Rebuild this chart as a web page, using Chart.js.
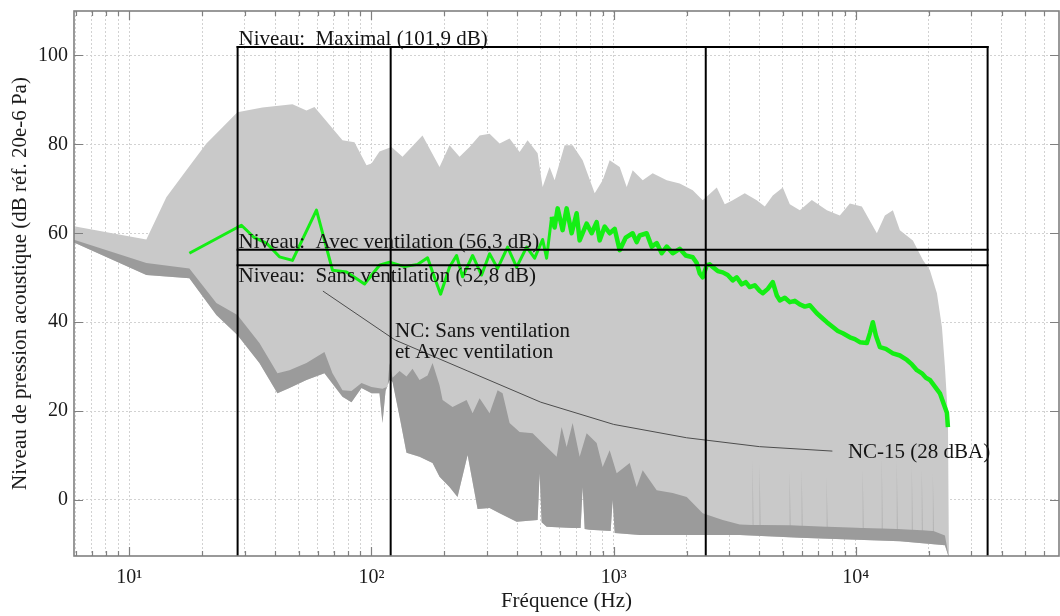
<!DOCTYPE html>
<html>
<head>
<meta charset="utf-8">
<script src="https://cdn.jsdelivr.net/npm/chart.js@4.4.1/dist/chart.umd.min.js"></script>
<style>
html,body{margin:0;padding:0;background:#ffffff;}
#wrap{width:1060px;height:616px;position:relative;}
</style>
</head>
<body>
<div id="wrap"><canvas id="c"></canvas></div>
<script>
// ---------------- data ----------------
// Upper envelope of the spectra (light grey area)
const maxFreq = [5.87, 11.76, 14.22, 17.20, 20.81, 23.54, 27.95, 35.44, 47.17, 53.88, 58.15, 75.90, 85.06, 95.35, 100.0, 107.9, 120.9, 134.3, 162.4, 191.0, 210.0, 231.0, 254.1, 279.5, 307.3, 338.1, 371.7, 408.9, 441.1, 485.3, 508.9, 543.9, 570.4, 627.4, 677.0, 744.6, 834.9, 900.5, 962.7, 1059, 1132, 1198, 1318, 1449, 1656, 1874, 2121, 2332, 2665, 2875, 3102, 3477, 3898, 4207, 4539, 4993, 5337, 5870, 6579, 7590, 8587, 9446, 10587, 12214, 13178, 14221, 15200, 17200, 18920, 20220, 21613, 22670, 23326, 24000, 24229];
const maxLevel = [61.6, 58.6, 68.1, 74.2, 80.2, 83.1, 87.2, 88.3, 89.0, 87.6, 88.4, 80.9, 80.5, 75.3, 75.7, 78.4, 79.4, 77.2, 82.0, 74.9, 79.8, 77.2, 79.4, 82.0, 82.4, 80.2, 81.3, 78.3, 80.9, 78.0, 70.4, 74.9, 71.9, 79.8, 79.8, 76.4, 69.0, 71.9, 76.4, 74.9, 70.4, 74.2, 71.9, 73.5, 71.9, 71.2, 69.7, 67.4, 70.3, 66.5, 67.4, 69.0, 67.4, 66.0, 68.5, 70.3, 66.5, 65.2, 67.5, 65.2, 64.0, 66.7, 66.0, 60.0, 64.0, 65.2, 60.7, 58.4, 54.0, 51.7, 46.5, 38.9, 29.9, 18.7, -13];

// Top edge of the dark grey area
const midFreq = [5.87, 11.76, 17.70, 22.88, 27.95, 34.45, 40.89, 45.83, 53.88, 63.94, 69.01, 75.90, 82.67, 90.93, 100.0, 111.0, 116.5, 118.7, 122.1, 130.6, 139.5, 147.7, 157.9, 170.4, 178.7, 191.0, 196.6, 216.1, 247.0, 261.5, 279.5, 307.3, 331.7, 347.8, 371.7, 408.9, 462.8, 528.6, 581.5, 609.7, 639.4, 677.0, 723.6, 773.3, 850.5, 900.5, 962.7, 1029, 1164.6, 1244.5, 1318, 1505.6, 1753.1, 2003, 2332, 2821, 3316, 3735, 3753, 3771, 3990, 4011, 4032, 5310, 5337, 5364, 5953, 5983, 6013, 7550, 7588, 7626, 9446, 10635, 10688, 10741, 12743, 12807, 12871, 14698, 14772, 14846, 16953, 17038, 17123, 18644, 18738, 18832, 20706, 20810, 20914, 23326, 24229];
const midLevel = [58.6, 53.3, 52.1, 44.3, 41.6, 35.3, 28.5, 29.2, 30.8, 33.3, 28.5, 24.7, 24.5, 26.3, 25.4, 25.0, 25.5, 30.8, 27.5, 29.0, 27.8, 29.5, 27.0, 28.0, 30.8, 25.8, 22.5, 20.9, 22.5, 19.5, 22.9, 19.5, 24.7, 24.0, 17.3, 15.3, 15.0, 11.9, 9.7, 16.4, 11.9, 17.3, 9.7, 15.0, 12.8, 7.4, 11.2, 6.0, 8.3, 2.9, 6.7, 2.2, 1.6, 0.7, -3.0, -4.5, -5.5, -5.6, 9.0, -5.6, -5.6, 8.0, -5.6, -5.7, 6.5, -5.7, -5.8, 7.0, -5.8, -6.0, 5.0, -6.0, -6.2, -6.3, 7.0, -6.3, -6.4, 9.8, -6.4, -6.5, 9.0, -6.5, -6.7, 8.0, -6.7, -6.8, 7.0, -6.8, -7.0, 6.0, -7.0, -8.0, -13];

// Bottom edge of the dark grey area
const lowFreq = [5.87, 11.76, 17.70, 22.88, 27.95, 34.45, 40.89, 45.83, 53.88, 63.94, 75.90, 82.67, 90.93, 100.0, 107.9, 111.0, 114.3, 118.7, 122.1, 130.6, 139.5, 157.9, 178.7, 191.0, 210.0, 226.6, 249.4, 274.2, 307.3, 338.1, 397.4, 485.3, 494.6, 504.1, 528.6, 677.0, 730.5, 744.6, 759.0, 795.7, 971.8, 990.5, 1009.5, 1280.5, 3316, 5870, 15200, 23326, 24229];
const lowLevel = [58.0, 50.6, 49.9, 41.6, 37.1, 30.8, 24.0, 25.2, 27.0, 28.5, 23.2, 22.0, 25.2, 24.0, 24.0, 17.3, 24.5, 27.0, 26.6, 18.7, 10.6, 9.7, 8.3, 5.2, 2.9, 0.7, 10.1, -2.0, -1.8, -3.0, -4.9, -4.5, 6.0, -5.0, -6.0, -6.3, -6.3, 2.9, -6.5, -6.7, -7.0, 0.0, -7.4, -7.9, -7.9, -8.5, -9.3, -10.2, -13];

// Green spectrum (Avec ventilation)
const avecFreq = [17.70, 29.03, 32.85, 36.82, 41.68, 47.17, 59.26, 69.01, 78.83, 93.56, 107.9, 118.7, 136.9, 154.9, 170.4, 182.2, 192.9, 210.0, 224.5, 237.7, 261.5, 284.8, 307.3, 331.7, 364.7, 397.4, 437.1, 471.7, 508.9, 528.6, 554.3, 570.4, 587.0, 615.5, 639.4, 670.6, 703.2, 723.6, 773.3, 811.0, 850.5, 875.2, 918.0, 962.7, 1009.5, 1058.7, 1120.9, 1197.9, 1244.5, 1280.5, 1369.0, 1435.7, 1505.6, 1578.9, 1655.8, 1753.1, 1873.8, 1983.9, 2120.6, 2202.9, 2266.7, 2332.4, 2422.9, 2493.0, 2565.4, 2690.2, 2821, 2958, 3102, 3222, 3379, 3510, 3647, 3824, 4011, 4127, 4329, 4539, 4717, 4853, 5089, 5337, 5596, 5870, 6155, 6455, 6901, 7236, 7588, 8034, 8425, 8835, 9446, 9905, 10388, 11104, 11426, 11757, 12097, 12566, 13304, 14221, 15200, 16248, 17038, 17868, 18738, 19465, 20220, 21206, 22239, 23101, 23770, 23998];
const avecLevel = [55.5, 61.8, 59.0, 57.8, 54.7, 53.9, 65.2, 51.7, 51.3, 48.6, 52.8, 53.5, 52.5, 53.0, 54.5, 50.0, 46.3, 52.4, 55.0, 50.2, 55.0, 50.6, 55.4, 52.1, 56.9, 52.4, 56.9, 54.4, 58.6, 54.4, 63.7, 61.3, 65.6, 60.7, 65.6, 60.0, 64.5, 58.4, 62.2, 60.0, 62.5, 58.4, 61.5, 60.0, 61.0, 56.2, 59.0, 60.0, 58.0, 59.5, 60.0, 57.0, 57.8, 55.5, 57.0, 55.5, 56.5, 55.0, 54.6, 53.3, 51.0, 50.1, 52.8, 53.0, 52.4, 51.5, 51.2, 50.6, 49.4, 50.1, 48.5, 49.0, 47.9, 48.3, 47.0, 46.5, 47.5, 49.0, 46.0, 44.9, 45.5, 44.5, 44.8, 44.0, 43.5, 43.8, 42.0, 41.0, 40.0, 38.9, 38.0, 37.5, 36.6, 36.2, 35.5, 35.3, 37.5, 40.0, 37.0, 34.4, 34.0, 33.0, 32.5, 31.5, 30.5, 29.2, 28.5, 27.5, 27.0, 25.5, 24.0, 21.5, 19.6, 16.4];

// NC-15 curve (octave bands)
const ncFreq = [63, 125, 250, 500, 1000, 2000, 4000, 8000];
const ncLevel = [47, 36, 29, 22, 17, 14, 12, 11];

// Level box
const boxFreqs = [28, 120, 2400, 35000];
const levelValues = [101.9, 56.3, 52.8];
const levelLabels = ['Niveau:  Maximal (101,9 dB)', 'Niveau:  Avec ventilation (56,3 dB)', 'Niveau:  Sans ventilation (52,8 dB)'];
const ncLabelLines = ['NC: Sans ventilation', 'et Avec ventilation'];
const ncCurveLabel = 'NC-15 (28 dBA)';

// Axes
const yTickValues = [0, 20, 40, 60, 80, 100];
const xDecades = [1, 10, 100, 1000, 10000];
const xMajorLabels = {10: '10\u00B9', 100: '10\u00B2', 1000: '10\u00B3', 10000: '10\u2074'};
const xTitle = 'Fréquence (Hz)';
const yTitle = 'Niveau de pression acoustique (dB réf. 20e-6 Pa)';
const xMin = 5.91, xMax = 69000, yMin = -12.6, yMax = 110;

// ---------------- build chart ----------------
const FONT = "'Liberation Serif', 'Times New Roman', serif";
Chart.defaults.font.family = FONT;
Chart.defaults.color = '#1a1a1a';

const pairs = (fs, vs) => fs.map((f, i) => ({x: f, y: vs[i]}));

const xGrid = [];
xDecades.forEach(d => { for (let m = 1; m <= 9; m++) { const v = d * m; if (v >= xMin && v <= xMax) xGrid.push(v); } });

const blackLine = {borderColor: '#000', borderWidth: 2, pointRadius: 0, fill: false, order: 1, borderCapStyle: 'square', tension: 0};
const datasets = [];
boxFreqs.forEach(f => datasets.push(Object.assign({label: 'box', data: [{x: f, y: yMin}, {x: f, y: levelValues[0]}]}, blackLine)));
levelValues.forEach(v => datasets.push(Object.assign({label: 'level', data: [{x: boxFreqs[0], y: v}, {x: boxFreqs[boxFreqs.length - 1], y: v}]}, blackLine)));
datasets.push({label: 'NC-15', data: pairs(ncFreq, ncLevel), borderColor: '#4d4d4d', borderWidth: 1, pointRadius: 0, fill: false, order: 2});
datasets.push({label: 'Avec ventilation', data: pairs(avecFreq, avecLevel), borderColor: '#14ee14', borderWidth: 3, pointRadius: 0, fill: false, order: 3, borderJoinStyle: 'round',
  segment: {borderWidth: c => (c.p0.parsed.x > 540 ? 4.5 : 3)}});
const midIdx = datasets.length;
datasets.push({label: 'dark', data: pairs(midFreq, midLevel), borderColor: 'rgba(0,0,0,0)', borderWidth: 1, backgroundColor: '#9b9b9b', pointRadius: 0, order: 4});
datasets.push({label: 'light', data: pairs(maxFreq, maxLevel), borderColor: 'rgba(0,0,0,0)', borderWidth: 1, backgroundColor: '#c9c9c9', pointRadius: 0, order: 5});
const lowIdx = datasets.length;
datasets.push({label: 'low', data: pairs(lowFreq, lowLevel), borderColor: 'rgba(0,0,0,0)', borderWidth: 1, pointRadius: 0, fill: false, order: 6});
datasets[midIdx].fill = lowIdx;
datasets[midIdx + 1].fill = lowIdx;

const framePlugin = {
  id: 'frameTicks',
  afterDatasetsDraw(chart) {
    const {ctx, chartArea: a, scales: {x, y}} = chart;
    ctx.save();
    ctx.strokeStyle = '#808080';
    ctx.lineWidth = 1.2;
    ctx.beginPath();
    xGrid.forEach(v => {
      const px = Math.round(x.getPixelForValue(v)) + 0.5;
      const len = xMajorLabels[v] ? 9 : 5;
      ctx.moveTo(px, a.bottom); ctx.lineTo(px, a.bottom - len);
      ctx.moveTo(px, a.top); ctx.lineTo(px, a.top + len);
    });
    yTickValues.forEach(v => {
      const py = Math.round(y.getPixelForValue(v)) + 0.5;
      ctx.moveTo(a.left, py); ctx.lineTo(a.left + 9, py);
      ctx.moveTo(a.right, py); ctx.lineTo(a.right - 9, py);
    });
    ctx.stroke();
    ctx.lineWidth = 1.6;
    ctx.strokeRect(a.left, a.top, a.right - a.left, a.bottom - a.top);

    // annotations
    ctx.fillStyle = '#141414';
    ctx.font = '21px ' + FONT;
    ctx.textAlign = 'left';
    ctx.textBaseline = 'alphabetic';
    const lx = x.getPixelForValue(boxFreqs[0]) + 1;
    ctx.fillText(levelLabels[0], lx, y.getPixelForValue(levelValues[0]) - 2);
    ctx.fillText(levelLabels[1], lx, y.getPixelForValue(levelValues[1]) - 1.5);
    ctx.fillText(levelLabels[2], lx, y.getPixelForValue(levelValues[2]) + 17);
    const nx = x.getPixelForValue(ncFreq[1]);
    const ny = y.getPixelForValue(ncLevel[1]) - 2.5;
    ncLabelLines.forEach((t, i) => ctx.fillText(t, nx, ny + i * 21));
    const last = ncFreq.length - 1;
    ctx.fillText(ncCurveLabel, x.getPixelForValue(ncFreq[last]) + 15.5, y.getPixelForValue(ncLevel[last]) + 6.5);
    ctx.restore();
  }
};

new Chart(document.getElementById('c'), {
  type: 'line',
  data: {datasets},
  plugins: [framePlugin],
  options: {
    responsive: true,
    maintainAspectRatio: false,
    animation: false,
    devicePixelRatio: 1,
    layout: {padding: {top: 11, right: 1, bottom: 0, left: 0}},
    plugins: {legend: {display: false}, tooltip: {enabled: false}},
    elements: {line: {tension: 0}, point: {radius: 0}},
    scales: {
      x: {
        type: 'logarithmic', min: xMin, max: xMax,
        afterBuildTicks: s => { s.ticks = xGrid.map(v => ({value: v, major: !!xMajorLabels[v]})); },
        afterFit: s => { s.height = 60; s.paddingLeft = 0; s.paddingRight = 0; },
        ticks: {autoSkip: false, maxRotation: 0, minRotation: 0, padding: 10, font: {size: 20}, color: '#1a1a1a',
          callback: v => xMajorLabels[v] || ''},
        grid: {color: '#d2d2d2', lineWidth: 1, drawTicks: false},
        border: {display: false, dash: [2, 2]},
        title: {display: true, text: xTitle, font: {size: 21}, color: '#1a1a1a', padding: {top: 0, bottom: 1.5}}
      },
      y: {
        type: 'linear', min: yMin, max: yMax,
        afterBuildTicks: s => { s.ticks = yTickValues.map(v => ({value: v})); },
        afterFit: s => { s.width = 74; s.paddingTop = 0; s.paddingBottom = 0; },
        ticks: {padding: 6, font: {size: 20}, color: '#1a1a1a'},
        grid: {color: '#d2d2d2', lineWidth: 1, drawTicks: false},
        border: {display: false, dash: [2, 2]},
        title: {display: true, text: yTitle, font: {size: 21}, color: '#1a1a1a', padding: {top: 7.5, bottom: 0}}
      }
    }
  }
});
</script>
</body>
</html>
